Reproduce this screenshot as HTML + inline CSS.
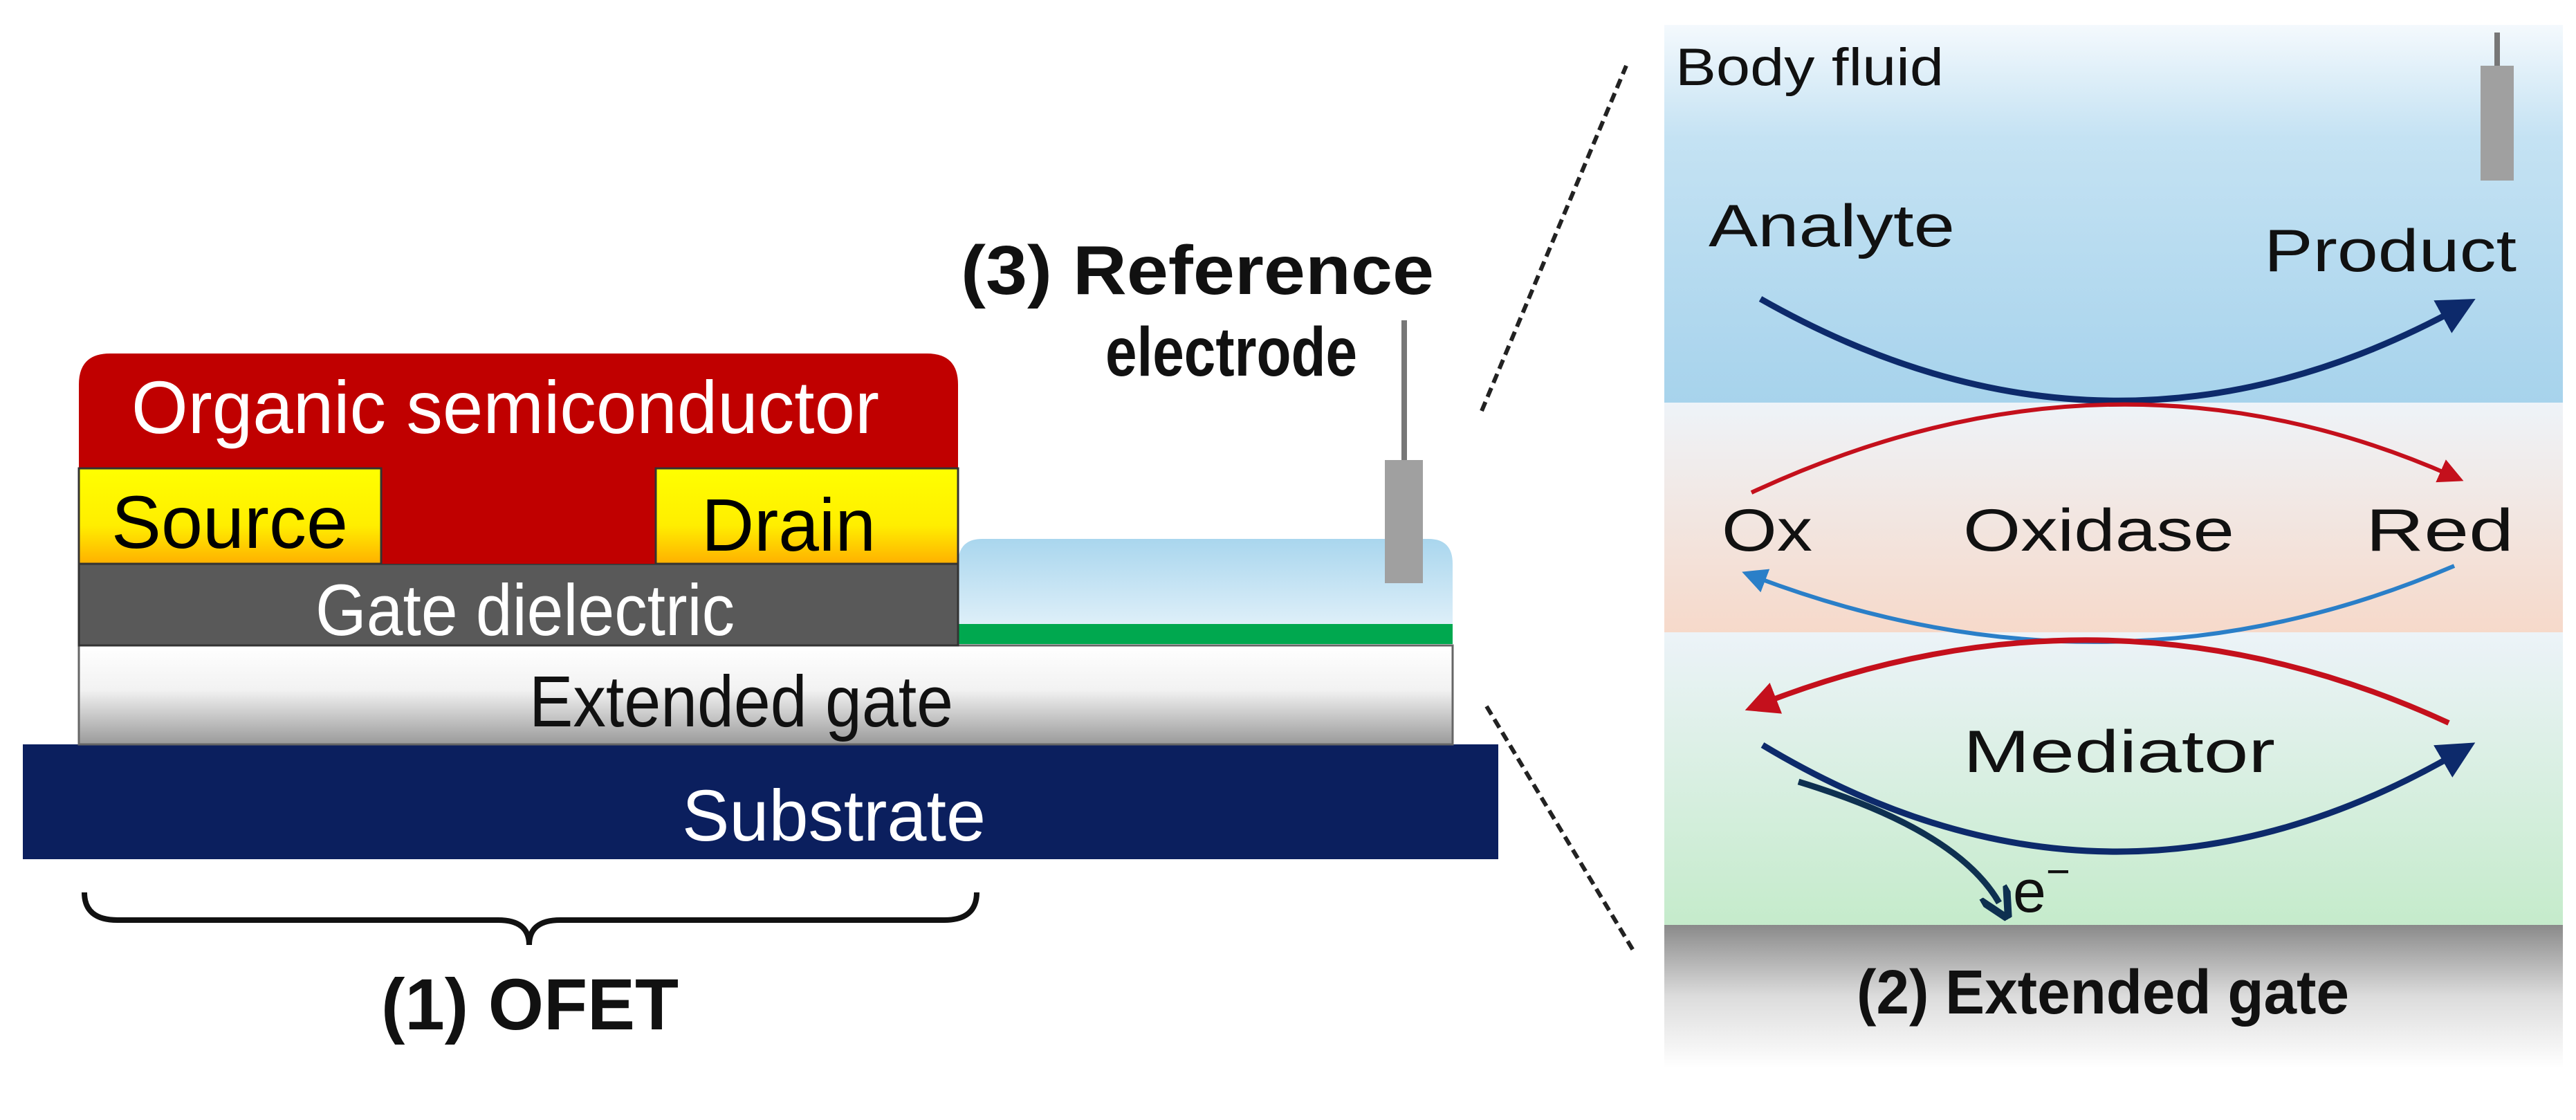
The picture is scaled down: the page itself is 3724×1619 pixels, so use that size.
<!DOCTYPE html>
<html><head><meta charset="utf-8"><style>html,body{margin:0;padding:0;background:#fff}svg{display:block}</style></head><body>
<svg width="3724" height="1619" viewBox="0 0 3724 1619" xmlns="http://www.w3.org/2000/svg" font-family="'Liberation Sans', sans-serif">
<defs>
<linearGradient id="yel" x1="0" y1="0" x2="0" y2="1"><stop offset="0" stop-color="#ffff00"/><stop offset="0.6" stop-color="#ffee00"/><stop offset="1" stop-color="#ffb000"/></linearGradient>
<linearGradient id="ext" x1="0" y1="0" x2="0" y2="1"><stop offset="0" stop-color="#ffffff"/><stop offset="0.45" stop-color="#f2f2f2"/><stop offset="1" stop-color="#9a9a9a"/></linearGradient>
<linearGradient id="wat" x1="0" y1="0" x2="0" y2="1"><stop offset="0" stop-color="#a9d6ee"/><stop offset="1" stop-color="#eaf5fb"/></linearGradient>
<linearGradient id="blue" x1="0" y1="0" x2="0" y2="1"><stop offset="0" stop-color="#f4f9fd"/><stop offset="0.3" stop-color="#c4e2f3"/><stop offset="1" stop-color="#a7d3ec"/></linearGradient>
<linearGradient id="pink" x1="0" y1="0" x2="0" y2="1"><stop offset="0" stop-color="#eef3f8"/><stop offset="1" stop-color="#f6d9ca"/></linearGradient>
<linearGradient id="grn" x1="0" y1="0" x2="0" y2="1"><stop offset="0" stop-color="#ecf3f8"/><stop offset="1" stop-color="#c5ebcb"/></linearGradient>
<linearGradient id="gry" x1="0" y1="0" x2="0" y2="1"><stop offset="0" stop-color="#8a8a8a"/><stop offset="0.5" stop-color="#dcdcdc"/><stop offset="1" stop-color="#ffffff"/></linearGradient>
<marker id="ab" markerWidth="6" markerHeight="6" refX="3" refY="3" orient="auto" markerUnits="strokeWidth"><path d="M0,0 L6,3 L0,6 z" fill="#0d2a6b"/></marker>
<marker id="ar" markerWidth="6" markerHeight="6" refX="3" refY="3" orient="auto" markerUnits="strokeWidth"><path d="M0,0 L6,3 L0,6 z" fill="#c4101c"/></marker>
<marker id="al" markerWidth="6" markerHeight="6" refX="3" refY="3" orient="auto" markerUnits="strokeWidth"><path d="M0,0 L6,3 L0,6 z" fill="#2a7fc8"/></marker>
<marker id="ae" markerWidth="5" markerHeight="5" refX="2" refY="2.5" orient="auto" markerUnits="strokeWidth"><path d="M0,0 L5,2.5 L0,5" fill="none" stroke="#0e3050" stroke-width="1.2"/></marker>
</defs>

<rect x="33" y="1076" width="2133" height="166" fill="#0b1f5e"/>
<rect x="114" y="933" width="1986" height="143" fill="url(#ext)" stroke="#666" stroke-width="3"/>
<path d="M1385,931 V815 Q1385,779 1420,779 H2065 Q2100,779 2100,815 V931 Z" fill="url(#wat)"/>
<rect x="1385" y="902" width="715" height="29" fill="#00a84f"/>
<rect x="114" y="815" width="1271" height="118" fill="#595959" stroke="#333" stroke-width="3"/>
<path d="M114,677 V556 Q114,511 159,511 H1340 Q1385,511 1385,556 V677 Z" fill="#c00000"/>
<rect x="114" y="677" width="1271" height="138" fill="#c00000"/>
<rect x="114" y="677" width="437" height="138" fill="url(#yel)" stroke="#333" stroke-width="3"/>
<rect x="948" y="677" width="437" height="138" fill="url(#yel)" stroke="#333" stroke-width="3"/>

<text x="190" y="626" font-size="108" fill="#fff" textLength="1081" lengthAdjust="spacingAndGlyphs">Organic semiconductor</text>
<text x="161" y="792" font-size="108" fill="#000" textLength="342" lengthAdjust="spacingAndGlyphs">Source</text>
<text x="1014" y="796" font-size="108" fill="#000" textLength="252" lengthAdjust="spacingAndGlyphs">Drain</text>
<text x="456" y="918" font-size="105" fill="#fff" textLength="606" lengthAdjust="spacingAndGlyphs">Gate dielectric</text>
<text x="765" y="1050" font-size="105" fill="#111" textLength="613" lengthAdjust="spacingAndGlyphs">Extended gate</text>
<text x="986" y="1215" font-size="105" fill="#fff" textLength="439" lengthAdjust="spacingAndGlyphs">Substrate</text>

<rect x="2026" y="463" width="8" height="205" fill="#777"/>
<rect x="2002" y="665" width="55" height="178" fill="#a0a0a0"/>
<text x="1389" y="425" font-size="100" font-weight="bold" fill="#111" textLength="684" lengthAdjust="spacingAndGlyphs">(3) Reference</text>
<text x="1598" y="543" font-size="100" font-weight="bold" fill="#111" textLength="364" lengthAdjust="spacingAndGlyphs">electrode</text>

<path d="M122,1290 Q122,1330 170,1330 H720 Q765,1330 765,1366 Q765,1330 810,1330 H1365 Q1412,1330 1412,1290" fill="none" stroke="#111" stroke-width="8"/>
<text x="551" y="1488" font-size="105" font-weight="bold" fill="#111" textLength="430" lengthAdjust="spacingAndGlyphs">(1) OFET</text>

<line x1="2142" y1="594" x2="2351" y2="95" stroke="#222" stroke-width="6" stroke-dasharray="14,8"/>
<line x1="2149" y1="1021" x2="2363" y2="1377" stroke="#222" stroke-width="6" stroke-dasharray="14,8"/>

<rect x="2406" y="36" width="1299" height="546" fill="url(#blue)"/>
<rect x="2406" y="582" width="1299" height="332" fill="url(#pink)"/>
<rect x="2406" y="914" width="1299" height="423" fill="url(#grn)"/>
<rect x="2406" y="1337" width="1299" height="207" fill="url(#gry)"/>
<rect x="3606" y="47" width="8" height="50" fill="#777"/>
<rect x="3586" y="95" width="48" height="166" fill="#a0a0a0"/>

<text x="2422" y="123" font-size="76" fill="#111" textLength="388" lengthAdjust="spacingAndGlyphs">Body fluid</text>
<text x="2470" y="356" font-size="86" fill="#111" textLength="356" lengthAdjust="spacingAndGlyphs">Analyte</text>
<text x="3273" y="392" font-size="86" fill="#111" textLength="365" lengthAdjust="spacingAndGlyphs">Product</text>
<text x="2489" y="796" font-size="86" fill="#111" textLength="131" lengthAdjust="spacingAndGlyphs">Ox</text>
<text x="2838" y="796" font-size="86" fill="#111" textLength="392" lengthAdjust="spacingAndGlyphs">Oxidase</text>
<text x="3420" y="796" font-size="86" fill="#111" textLength="214" lengthAdjust="spacingAndGlyphs">Red</text>
<text x="2838" y="1116" font-size="86" fill="#111" textLength="451" lengthAdjust="spacingAndGlyphs">Mediator</text>
<text x="2910" y="1318" font-size="86" fill="#111">e<tspan font-size="60" dy="-38">−</tspan></text>
<text x="2684" y="1465" font-size="90" font-weight="bold" fill="#111" textLength="712" lengthAdjust="spacingAndGlyphs">(2) Extended gate</text>

<path d="M2545,432 Q3052,720 3555,445" fill="none" stroke="#0d2a6b" stroke-width="9" marker-end="url(#ab)"/>
<path d="M2532,712 Q3052,470 3545,688" fill="none" stroke="#c4101c" stroke-width="6" marker-end="url(#ar)"/>
<path d="M3548,818 Q3052,1030 2535,833" fill="none" stroke="#2a7fc8" stroke-width="6" marker-end="url(#al)"/>
<path d="M3540,1045 Q3052,820 2545,1018" fill="none" stroke="#c4101c" stroke-width="8" marker-end="url(#ar)"/>
<path d="M2548,1077 Q3052,1380 3555,1087" fill="none" stroke="#0d2a6b" stroke-width="9" marker-end="url(#ab)"/>
<path d="M2600,1130 Q2830,1200 2890,1305" fill="none" stroke="#0e3050" stroke-width="9" marker-end="url(#ae)"/>
</svg>
</body></html>
